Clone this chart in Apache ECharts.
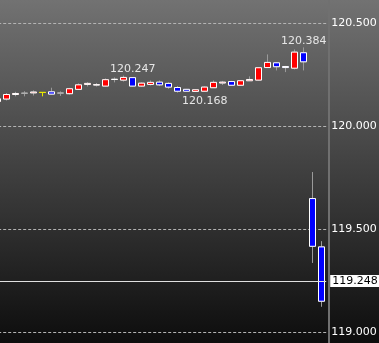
<!DOCTYPE html>
<html><head><meta charset="utf-8">
<script src="https://cdn.jsdelivr.net/npm/echarts@6/dist/echarts.min.js"></script>
<style>html,body{margin:0;padding:0;background:#000}#c{width:379px;height:343px}</style>
</head><body><div id="c"></div>
<script>
const openV  = [120.121,120.133,120.155,120.161,120.163,120.165,120.168,120.162,120.159,120.180,120.204,120.201,120.196,120.228,120.225,120.237,120.196,120.204,120.215,120.209,120.189,120.180,120.170,120.171,120.188,120.211,120.218,120.200,120.222,120.225,120.286,120.309,120.291,120.283,120.358,119.649,119.414];
const closeV = [120.134,120.155,120.160,120.161,120.167,120.165,120.157,120.162,120.183,120.202,120.209,120.203,120.227,120.229,120.238,120.196,120.210,120.214,120.202,120.191,120.171,120.171,120.178,120.191,120.214,120.215,120.200,120.222,120.228,120.285,120.311,120.290,120.286,120.361,120.314,119.417,119.150];
const highV  = [120.138,120.162,120.168,120.171,120.175,120.166,120.188,120.170,120.187,120.209,120.215,120.211,120.233,120.238,120.247,120.239,120.214,120.223,120.223,120.214,120.196,120.182,120.181,120.194,120.223,120.221,120.221,120.223,120.243,120.286,120.350,120.313,120.294,120.374,120.384,119.778,119.442];
const lowV   = [120.119,120.126,120.146,120.146,120.150,120.146,120.155,120.148,120.155,120.177,120.194,120.194,120.194,120.214,120.218,120.194,120.192,120.199,120.196,120.183,120.164,120.168,120.168,120.170,120.187,120.201,120.197,120.199,120.221,120.223,120.284,120.272,120.264,120.277,120.272,119.336,119.123];
const categories = openV.map((_, i) => String(i + 1));
const highlightIndex = 5;
const lastPrice = 119.248;
const annotIndex = [15, 23, 34];
const annotValue = [120.247, 120.168, 120.384];
const annotSide  = ['high', 'low', 'high'];

const WICK = '#9a9a9a';
const wickData = openV.map((o, i) => {
  const d = { value: [o, closeV[i], lowV[i], highV[i]] };
  if (i === highlightIndex) d.itemStyle = { borderColor: '#e8e800', borderColor0: '#e8e800' };
  return d;
});
const bodyData = openV.map((o, i) => {
  const c = closeV[i];
  const d = { value: [o, c, Math.min(o, c), Math.max(o, c)] };
  if (i === highlightIndex) d.itemStyle = { color: '#e8e800', color0: '#e8e800', borderColor: '#e8e800', borderColor0: '#e8e800' };
  else if (o === c) d.itemStyle = { borderColor: '#b0b0b0', borderColor0: '#b0b0b0' };
  return d;
});

const chart = echarts.init(document.getElementById('c'), null, { renderer: 'canvas' });
chart.setOption({
  animation: false,
  backgroundColor: new echarts.graphic.LinearGradient(0, 0, 0, 1, [
    { offset: 0, color: '#727272' },
    { offset: 1, color: '#0d0d0d' }
  ]),
  grid: { left: -6.8, right: 52.8, top: -79.3, bottom: -91.9, containLabel: false, outerBoundsMode: 'none' },
  xAxis: { type: 'category', data: categories, show: false, boundaryGap: true },
  yAxis: {
    type: 'value', position: 'right', offset: 3,
    min: 118.5, max: 121, interval: 0.5,
    axisLine: { show: true, lineStyle: { color: '#707070', width: 2 } },
    axisTick: { show: false },
    axisLabel: { color: '#ffffff', fontSize: 11, fontFamily: 'DejaVu Sans', margin: 2,
      formatter: v => v.toFixed(3) },
    splitLine: { show: true, lineStyle: { color: '#b4b4b4', type: [3, 2], width: 1 } }
  },
  series: [
    {
      type: 'candlestick', data: wickData, barWidth: 7,
      itemStyle: { color: 'transparent', color0: 'transparent', borderColor: WICK, borderColor0: WICK, borderWidth: 1 }
    },
    {
      type: 'candlestick', data: bodyData, barWidth: 7,
      itemStyle: { color: '#ff0000', color0: '#0000ff', borderColor: '#ffffff', borderColor0: '#ffffff', borderWidth: 1 },
      markPoint: {
        symbol: 'circle', symbolSize: 0, silent: true,
        data: annotIndex.map((idx, k) => ({
          coord: [idx, annotValue[k]], value: annotValue[k].toFixed(3),
          label: { show: true, position: 'inside', offset: [0, annotSide[k] === 'high' ? -6.5 : 9],
            color: '#e6e6e6', fontSize: 11, fontFamily: 'DejaVu Sans',
            formatter: p => p.value }
        }))
      },
      markLine: {
        symbol: 'none', silent: true, precision: 3,
        lineStyle: { color: '#e0e0e0', type: 'solid', width: 1 },
        label: { show: true, position: 'end', distance: 4, color: '#000', backgroundColor: '#ffffff',
          borderColor: '#000', borderWidth: 0, padding: [1, 2, 0, 2], fontSize: 11, fontFamily: 'DejaVu Sans',
          formatter: () => lastPrice.toFixed(3) },
        data: [{ yAxis: lastPrice }]
      }
    }
  ]
});
</script></body></html>
